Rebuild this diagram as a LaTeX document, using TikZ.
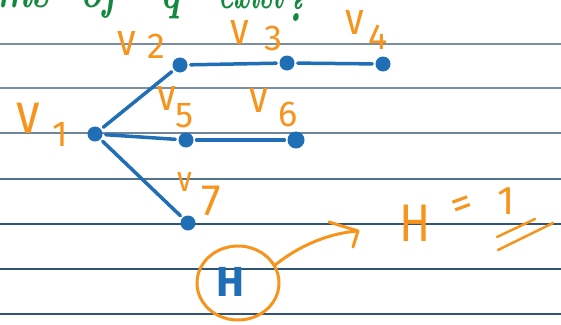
\documentclass[tikz,border=0pt]{standalone}
\usepackage{fontspec}
\newfontfamily\hand{Fira Sans}
\usetikzlibrary{shapes.geometric}
\definecolor{dotblue}{HTML}{1F6EB6}
\definecolor{lblorange}{HTML}{F7941D}
\definecolor{qgreen}{HTML}{13893F}
\definecolor{ruleA}{HTML}{7A8DA1}
\definecolor{ruleB}{HTML}{2E5576}
\begin{document}
\begin{tikzpicture}[x=1pt,y=-1pt,
  vtx/.style={circle,fill=dotblue,inner sep=0pt,minimum size=15pt},
  edge/.style={draw=dotblue,line width=3.5pt,line cap=round,shorten <=3pt,shorten >=3pt},
  lbl/.style={text=lblorange,inner sep=0pt,font=\hand\fontsize{36}{36}\selectfont},
  vl/.style={lbl,yscale=1.2,transform shape,font=\hand\fontsize{38}{38}\selectfont},
  greenw/.style={text=qgreen,inner sep=0pt,anchor=base west,xscale=0.7,transform shape,
    font=\bfseries\itshape\fontsize{54}{54}\selectfont},
  ostroke/.style={draw=lblorange,line width=3pt,line cap=round,line join=round},
  rule/.style={line width=1.2pt}]
\useasboundingbox (0,0) rectangle (561,324);
% ruled lines
\draw[rule,ruleA] (0,44) -- (561,44);
\draw[rule,ruleA] (0,88) -- (561,88);
\draw[rule,ruleA!85!ruleB] (0,133) -- (561,133);
\draw[rule,ruleA!50!ruleB] (0,179) -- (561,179);
\draw[rule,ruleB] (0,224) -- (561,224);
\draw[rule,ruleB] (0,269) -- (561,269);
\draw[rule,ruleB] (0,314) -- (561,314);
% green question (cut at top)
\node[greenw] (g1) at (-4,8) {ms};
\node[greenw] (g2) at (80,8) {of};
\node[greenw] (g3) at (160,9) {q};
\node[greenw,xscale=0.75] (g4) at (218,9) {exist};
\node[greenw] (g5) at (284,21) {?};
% vertices
\node[vtx] (v1) at (95,134) {};
\node[vtx] (v2) at (180,65) {};
\node[vtx] (v3) at (287,63) {};
\node[vtx] (v4) at (383,64) {};
\node[vtx] (v5) at (186,140) {};
\node[vtx,minimum size=17pt] (v6) at (296,140) {};
\node[vtx] (v7) at (188,223) {};
% edges
\draw[edge] (v1) -- (v2);
\draw[edge] (v1) -- (v5);
\draw[edge] (v1) -- (v7);
\draw[edge] (v2) -- (v3);
\draw[edge] (v3) -- (v4);
\draw[edge] (v5) -- (v6);
% labels
\node[vl,font=\hand\fontsize{48}{48}\selectfont] (l1v) at (28,118) {v};
\node[lbl] (l1n) at (60,134) {1};
\node[vl] (l2v) at (127,43) {v};
\node[lbl] (l2n) at (156,46) {2};
\node[vl] (l3v) at (240,32) {v};
\node[lbl] (l3n) at (273,38) {3};
\node[vl] (l4v) at (355,22) {v};
\node[lbl] (l4n) at (378,37) {4};
\node[vl] (l5v) at (167,98) {v};
\node[lbl] (l5n) at (185,116) {5};
\node[vl] (l6v) at (259,100) {v};
\node[lbl] (l6n) at (288,114) {6};
\node[vl,font=\hand\fontsize{30}{30}\selectfont] (l7v) at (185,182) {v};
\node[lbl,font=\hand\fontsize{44}{44}\selectfont] (l7n) at (211,201) {7};
% circled H
\node[ellipse,draw=lblorange,line width=3pt,minimum width=82pt,minimum height=74pt] (hc) at (238,283) {};
\node[text=dotblue,inner sep=0pt,font=\hand\bfseries\fontsize{42}{42}\selectfont] (h) at (230,282) {H};
\coordinate (tip) at (358,231);
\draw[ostroke] (hc.26) .. controls (300,245) and (330,233) .. (tip);
\draw[ostroke] (tip) ++(-29,-9) -- (tip) -- ++(-5,16);
% H = 1
\node[lbl,yscale=1.15,transform shape,font=\hand\fontsize{46}{46}\selectfont] (hh) at (415,223) {H};
\node[lbl,rotate=20,transform shape,font=\hand\fontsize{42}{42}\selectfont] (eq) at (463,208) {=};
\node[lbl,font=\hand\fontsize{40}{40}\selectfont] (one) at (506,201) {1};
\draw[ostroke,line width=2.5pt] (497,237) -- (535,219);
\draw[ostroke,line width=2.5pt] (498,250) -- (553,223);
\end{tikzpicture}
\end{document}
